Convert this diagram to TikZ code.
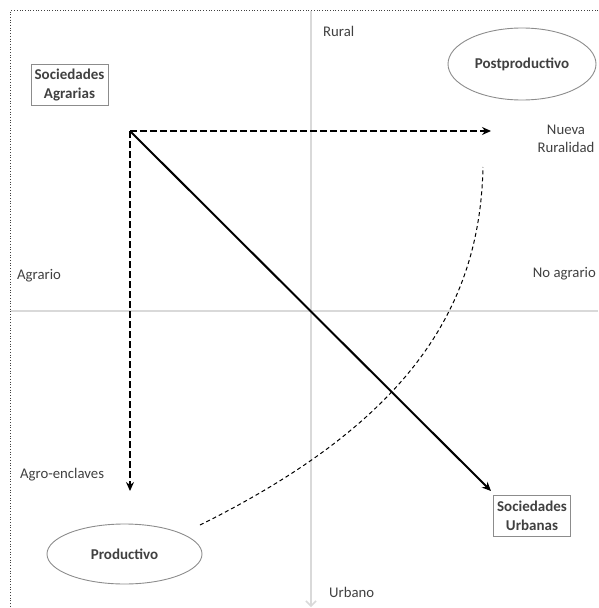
\documentclass[tikz,border=0pt]{standalone}
\usepackage{fontspec}
\setmainfont{Carlito}
\usetikzlibrary{arrows.meta,shapes.geometric}
\definecolor{txtgray}{HTML}{404040}
\definecolor{axisgray}{HTML}{D9D9D9}
\definecolor{linegray}{HTML}{8C8C8C}
\begin{document}
\begin{tikzpicture}[x=1pt,y=-1pt,
  lbl/.style={text=txtgray,font=\fontsize{14.75}{17.5}\selectfont,inner sep=0pt},
  boxnode/.style={draw=linegray,line width=0.9pt,text=txtgray,font=\fontsize{15}{18.5}\selectfont\bfseries,align=center,inner sep=0pt,minimum width=77pt,minimum height=41pt},
  ellnode/.style={ellipse,draw=linegray,line width=0.9pt,text=txtgray,font=\fontsize{15}{18}\selectfont\bfseries,inner sep=0pt},
  axisline/.style={draw=axisgray,line width=1.5pt},
  dasharrow/.style={line width=2pt,dash pattern=on 6.5pt off 3.5pt,-{Stealth[length=9pt,width=8pt,inset=3pt]}},
  solidarrow/.style={line width=2pt,-{Stealth[length=9pt,width=8pt,inset=3pt]}},
  thindash/.style={line width=1pt,dash pattern=on 4pt off 3pt}
]
\useasboundingbox (0,0) rectangle (598,608);
% frame
\coordinate (fc) at (10.5,10.5);
\coordinate (fr) at (598,10.5);
\coordinate (fb) at (10.5,608);
\draw[txtgray,line width=0.7pt,dotted] (fr) -- (fc) -- (fb);
% axes
\coordinate (hl) at (10.5,311);
\coordinate (hr) at (598,311);
\coordinate (vt) at (311,10.5);
\coordinate (vb) at (311,607);
\draw[axisline] (hl) -- (hr);
\draw[axisline,-{Straight Barb[length=5pt,width=10pt]}] (vt) -- (vb);
% axis labels
\node[lbl,anchor=west] (rural) at (323,31) {Rural};
\node[lbl,anchor=west] (urbano) at (329,592) {Urbano};
\node[lbl,anchor=west] (agrario) at (17,276) {Agrario};
\node[lbl,anchor=east] (noagrario) at (596,274) {No agrario};
\node[lbl,anchor=west] (agroenc) at (20,475) {Agro-enclaves};
\node[lbl,align=center] (nueva) at (566,139) {Nueva\\Ruralidad};
% boxes and ellipses
\node[boxnode] (sa) at (69.5,85) {Sociedades\\Agrarias};
\node[boxnode] (su) at (532,516) {Sociedades\\Urbanas};
\node[ellnode,minimum width=148pt,minimum height=72pt] (post) at (522,64) {Postproductivo};
\node[ellnode,minimum width=155pt,minimum height=60pt] (prod) at (124.5,554) {Productivo};
% arrows
\coordinate (c) at (130,131);
\coordinate (h) at (491,131);
\coordinate (v) at (130,491);
\coordinate (d) at (491,491);
\draw[dasharrow] (c) -- (h);
\draw[dasharrow] (c) -- (v);
\draw[solidarrow] (c) -- (d);
% curve
\coordinate (cs) at (200,525);
\coordinate (ce) at (483,167);
\draw[thindash] (cs) .. controls (412,420) and (480,305) .. (ce);
\end{tikzpicture}
\end{document}
